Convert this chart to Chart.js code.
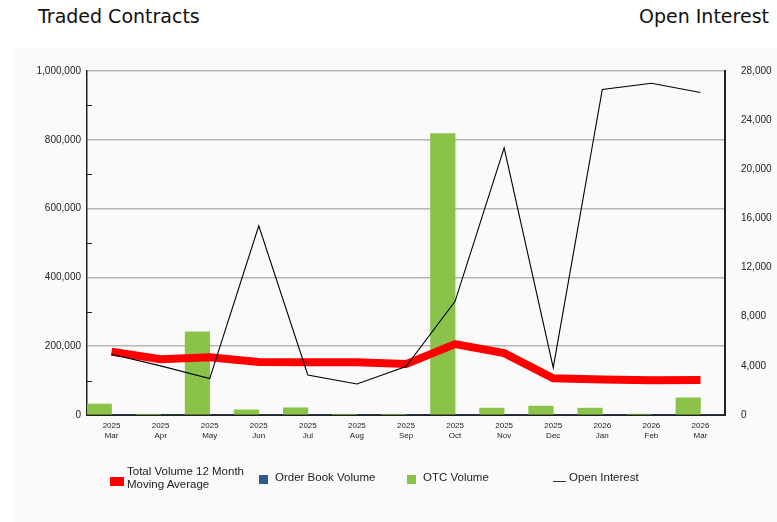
<!DOCTYPE html>
<html>
<head>
<meta charset="utf-8">
<script src="https://cdn.jsdelivr.net/npm/chart.js@4"></script>
<style>
  body { margin: 0; background: #fff; }
  #wrap { position: relative; width: 777px; height: 522px; overflow: hidden; }
  #panel { position: absolute; left: 13px; top: 48px; right: 0; bottom: 0; background: #fafafa; }
  .title { position: absolute; top: 5px; font-family: "DejaVu Sans", sans-serif; font-size: 19px; color: #111; }
  #chart { position: absolute; left: 0; top: 0; }
  .leg { position: absolute; font-family: "Liberation Sans", Arial, sans-serif; font-size: 11.5px; color: #222; line-height: 13px; }
  .sw { position: absolute; }
</style>
</head>
<body>
<div id="wrap">
  <div id="panel"></div>
  <div class="title" style="left:38px">Traded Contracts</div>
  <div class="title" style="right:8px">Open Interest</div>
  <canvas id="chart" width="777" height="522"></canvas>

  <div class="sw" style="left:110px;top:477px;width:14px;height:9px;background:#ff0000"></div>
  <div class="leg" style="left:127px;top:465px">Total Volume 12 Month<br>Moving Average</div>
  <div class="sw" style="left:259px;top:475px;width:9px;height:9px;background:#2f5b8e"></div>
  <div class="leg" style="left:275px;top:471px">Order Book Volume</div>
  <div class="sw" style="left:407px;top:475px;width:9px;height:9px;background:#8bc34a"></div>
  <div class="leg" style="left:423px;top:471px">OTC Volume</div>
  <div class="sw" style="left:553px;top:481px;width:13px;height:1px;background:#333"></div>
  <div class="leg" style="left:569px;top:471px">Open Interest</div>
</div>

<script>
var years = ['2025', '2025', '2025', '2025', '2025', '2025', '2025', '2025', '2025', '2025', '2026', '2026', '2026'];
var months = ['Mar', 'Apr', 'May', 'Jun', 'Jul', 'Aug', 'Sep', 'Oct', 'Nov', 'Dec', 'Jan', 'Feb', 'Mar'];

var otcVolume = [32000, 2000, 242000, 15000, 21000, 2000, 2000, 818000, 20000, 26000, 20000, 2500, 50000];
var orderBookVolume = [0, 0, 0, 0, 0, 0, 0, 0, 0, 0, 0, 0, 0];
var movingAverage = [184000, 162000, 168000, 154000, 153000, 153000, 148000, 206000, 180000, 107000, 103000, 101000, 102000];
var openInterest = [4950, 4000, 2960, 15400, 3260, 2530, 3940, 9250, 21750, 3860, 26500, 27000, 26250];

var labels = months.map(function(m, i) { return [years[i], m]; });

// short inward tick marks at the odd 100,000 steps of the left axis
var minorTicks = {
  id: 'minorTicks',
  afterDraw: function(chart) {
    var s = chart.scales.y;
    var ctx = chart.ctx;
    ctx.save();
    ctx.strokeStyle = '#222';
    ctx.lineWidth = 1;
    for (var v = 100000; v < 1000000; v += 200000) {
      var y = Math.round(s.getPixelForValue(v)) + 0.5;
      ctx.beginPath();
      ctx.moveTo(s.right, y);
      ctx.lineTo(s.right + 5, y);
      ctx.stroke();
    }
    ctx.restore();
  }
};

var tickFont = { family: '"Liberation Sans", Arial, sans-serif', size: 10 };

new Chart(document.getElementById('chart'), {
  type: 'bar',
  data: {
    labels: labels,
    datasets: [
      {
        type: 'line',
        label: 'Total Volume 12 Month Moving Average',
        data: movingAverage,
        yAxisID: 'y',
        borderColor: '#ff0000',
        backgroundColor: '#ff0000',
        borderWidth: 8,
        pointRadius: 0,
        tension: 0,
        order: 1
      },
      {
        label: 'OTC Volume',
        data: otcVolume,
        yAxisID: 'y',
        backgroundColor: '#8bc34a',
        categoryPercentage: 1,
        barPercentage: 1,
        order: 2
      },
      {
        label: 'Order Book Volume',
        data: orderBookVolume,
        yAxisID: 'y',
        backgroundColor: '#2f5b8e',
        categoryPercentage: 1,
        barPercentage: 1,
        order: 3
      },
      {
        type: 'line',
        label: 'Open Interest',
        data: openInterest,
        yAxisID: 'y1',
        borderColor: '#000',
        borderWidth: 1.1,
        pointRadius: 0,
        tension: 0,
        order: 0
      }
    ]
  },
  options: {
    responsive: false,
    animation: false,
    layout: { padding: { top: 71, left: 0, right: 0, bottom: 0 } },
    plugins: {
      legend: { display: false },
      tooltip: { enabled: false }
    },
    scales: {
      x: {
        offset: true,
        grid: { display: false },
        border: { display: true, color: '#222', width: 2 },
        ticks: {
          autoSkip: false,
          maxRotation: 0,
          padding: -2,
          color: '#222',
          font: { family: '"Liberation Sans", Arial, sans-serif', size: 8, lineHeight: 1.25 }
        },
        afterFit: function(s) { s.height = 107; }
      },
      y: {
        position: 'left',
        min: 0,
        max: 1000000,
        grid: {
          drawTicks: false,
          color: function(c) {
            return c.tick && c.tick.value % 200000 === 0 && c.tick.value > 0 ? '#b5b5b5' : 'rgba(0,0,0,0)';
          },
          lineWidth: 1.5
        },
        border: { display: true, color: '#222', width: 1.5 },
        ticks: {
          stepSize: 100000,
          padding: 6,
          color: '#222',
          font: tickFont,
          callback: function(v) { return v % 200000 === 0 ? v.toLocaleString('en-US') : ''; }
        },
        afterFit: function(s) { s.width = 87; }
      },
      y1: {
        position: 'right',
        min: 0,
        max: 28000,
        grid: { display: false, drawOnChartArea: false },
        border: { display: true, color: '#222', width: 2 },
        ticks: {
          stepSize: 4000,
          padding: 8,
          color: '#222',
          font: tickFont,
          callback: function(v) { return v.toLocaleString('en-US'); }
        },
        afterFit: function(s) { s.width = 52; }
      }
    }
  },
  plugins: [minorTicks]
});
</script>
</body>
</html>
